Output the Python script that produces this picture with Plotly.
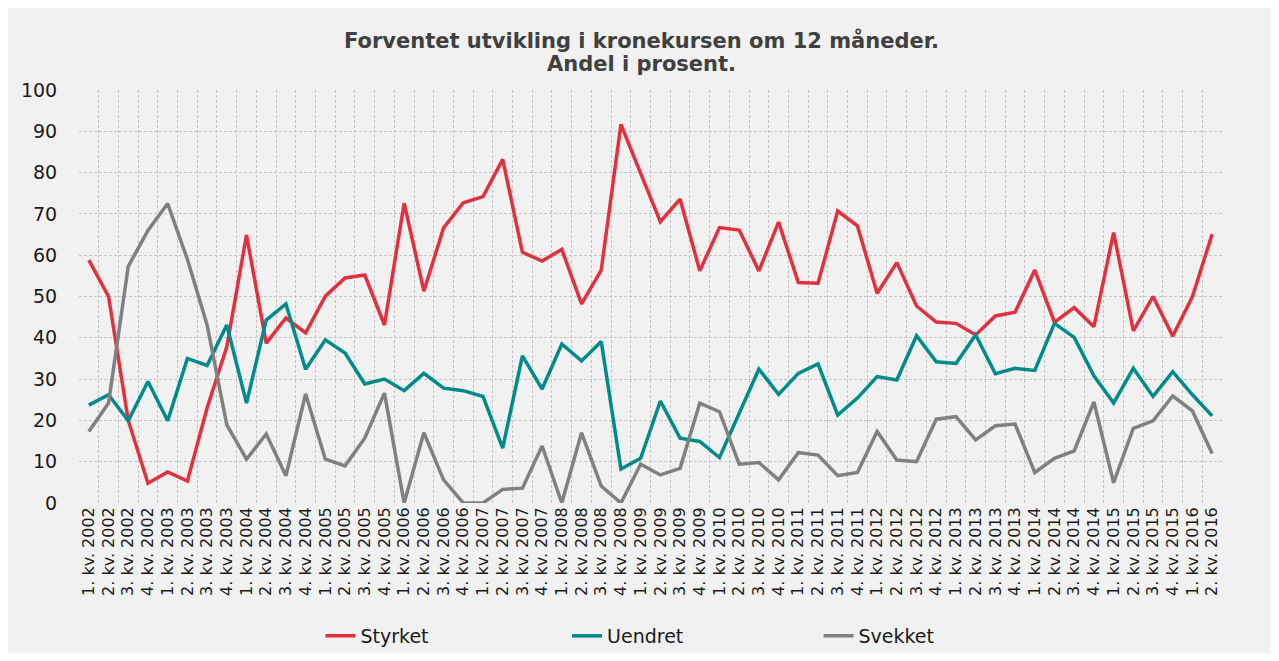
import plotly.graph_objects as go

years = list(range(2002, 2017))
categories = [f"{q}. kv. {y}" for y in years for q in range(1, 5)][:58]

styrket = [58.8, 50.0, 20.0, 4.8, 7.5, 5.3, 23.0, 37.8,
           64.9, 38.7, 44.8, 41.2, 50.1, 54.5, 55.2, 43.1,
           72.6, 51.3, 66.6, 72.7, 74.2, 83.2, 60.7, 58.6,
           61.4, 48.2, 56.4, 91.7, 79.8, 68.1, 73.6, 56.2,
           66.7, 66.1, 56.2, 68.0, 53.4, 53.2, 70.7, 67.1,
           50.8, 58.2, 47.7, 43.8, 43.5, 40.7, 45.3, 46.2,
           56.4, 43.8, 47.3, 42.7, 65.5, 41.7, 50.0, 40.4,
           50.0, 65.1]
uendret = [23.7, 26.2, 19.9, 29.4, 19.9, 35.0, 33.3, 43.1,
           24.2, 44.3, 48.2, 32.4, 39.5, 36.3, 28.8, 30.0,
           27.2, 31.4, 27.8, 27.2, 25.8, 13.3, 35.6, 27.6,
           38.5, 34.4, 39.1, 8.2, 10.8, 24.7, 15.7, 14.9,
           11.0, 21.7, 32.4, 26.3, 31.4, 33.7, 21.3, 25.4,
           30.6, 29.8, 40.5, 34.2, 33.8, 40.7, 31.3, 32.6,
           32.1, 43.5, 40.1, 30.8, 24.2, 32.6, 25.8, 31.8,
           26.2, 21.1]
svekket = [17.3, 24.2, 57.3, 66.0, 72.5, 59.0, 43.1, 18.9,
           10.6, 16.7, 6.6, 26.4, 10.6, 9.0, 15.7, 26.6,
           0.0, 17.0, 5.6, 0.0, 0.0, 3.3, 3.6, 13.8,
           0.0, 17.0, 4.1, 0.0, 9.4, 6.8, 8.4, 24.2,
           22.1, 9.4, 9.8, 5.6, 12.2, 11.6, 6.6, 7.4,
           17.3, 10.4, 10.0, 20.3, 20.9, 15.3, 18.7, 19.1,
           7.4, 10.8, 12.6, 24.5, 4.9, 18.1, 19.9, 25.9,
           22.3, 12.0]

series = [("Styrket", styrket, "#e2303f"),
          ("Uendret", uendret, "#008b8b"),
          ("Svekket", svekket, "#808080")]
title_lines = ["Forventet utvikling i kronekursen om 12 måneder.", "Andel i prosent."]

FONT = "Verdana, DejaVu Sans, sans-serif"
legend_ids = ["legend", "legend2", "legend3"]
legend_x = [0.2113, 0.4270, 0.6470]

fig = go.Figure()
for (name, vals, col), lid in zip(series, legend_ids):
    fig.add_trace(go.Scatter(x=categories, y=vals, name=name, mode="lines",
                             line=dict(color=col, width=3.5), legend=lid))

leg_common = dict(orientation="h", xanchor="left", y=-0.322, yanchor="middle",
                  font=dict(family=FONT, size=19, color="#1a1a1a"),
                  bgcolor="rgba(0,0,0,0)", borderwidth=0)
layout_legends = {lid: dict(x=lx, **leg_common) for lid, lx in zip(legend_ids, legend_x)}

fig.update_layout(
    width=1263, height=645,
    paper_bgcolor="#f1f1f1", plot_bgcolor="#f1f1f1",
    margin=dict(l=71, r=49, t=82, b=150, autoexpand=False),
    font=dict(family=FONT, color="#1a1a1a"),
    showlegend=True,
    **layout_legends,
)
for txt, yy in zip(title_lines, [1.119, 1.063]):
    fig.add_annotation(text=f"<b>{txt}</b>", xref="paper", yref="paper",
                       x=0.4917, y=yy, xanchor="center", yanchor="middle",
                       showarrow=False,
                       font=dict(family=FONT, size=21, color="#404040"))

fig.update_xaxes(type="category", tickangle=-90, tickson="boundaries",
                 showgrid=True, gridcolor="#c4c4c4", griddash="3px,2px", gridwidth=1,
                 tickfont=dict(family=FONT, size=16, color="#1a1a1a"),
                 showline=False, zeroline=False,
                 ticks="outside", ticklen=9, tickcolor="rgba(0,0,0,0)",
                 range=[-0.5, len(categories) - 0.5])
fig.update_yaxes(range=[0, 100], dtick=10, showgrid=True, gridcolor="#c4c4c4",
                 griddash="3px,2px", gridwidth=1, zeroline=False,
                 tickfont=dict(family=FONT, size=19, color="#1a1a1a"),
                 ticks="outside", ticklen=17, tickcolor="rgba(0,0,0,0)")

fig.write_html("out.html")
